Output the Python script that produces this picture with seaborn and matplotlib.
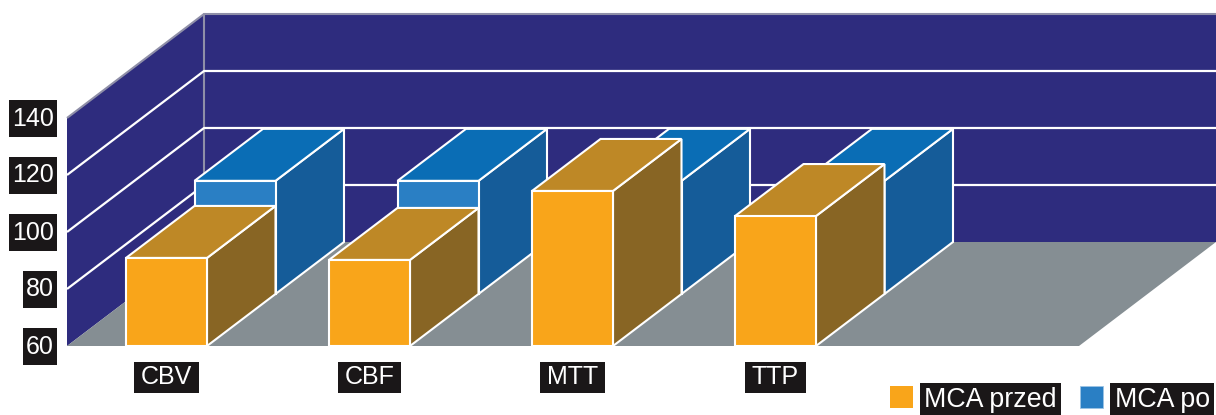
import numpy as np
import pandas as pd
import matplotlib
matplotlib.use("Agg")
import matplotlib.pyplot as plt
from matplotlib.patches import Patch
from matplotlib.transforms import Affine2D
import seaborn as sns

# Data
categories = ["CBV", "CBF", "MTT", "TTP"]
mca_przed = [90.9, 90.2, 114.4, 105.6]
mca_po = [99.7, 99.7, 99.7, 99.7]
y_ticks = [60, 80, 100, 120, 140]
series_names = ["MCA przed", "MCA po"]

W, H = 1216, 415
PX_Y = 2.85      # pixels per value unit
PX_X = 203.0     # pixels per category
LEFT, BASE = 67, 346
X0 = 166.5       # pixel of the first category centre
DX = 68.5 / PX_X # depth of one row
DY = 52 / PX_Y
BAR_W = 81 / PX_X

WALL = "#2E2C7E"; FLOOR = "#858E93"; EDGE = "white"; RIM = "#8F8FA8"
O_FRONT, O_TOP, O_SIDE = "#F9A51A", "#BE8826", "#886524"
B_FRONT, B_TOP, B_SIDE = "#2A7FC4", "#0A6DB5", "#155C99"
TAG = "#1A1718"

sns.set_theme(style="white")
plt.rcParams["font.family"] = ["Liberation Sans", "DejaVu Sans"]

fig = plt.figure(figsize=(W / 100, H / 100), dpi=100, facecolor="white")
ax = fig.add_axes([LEFT / W, (H - BASE) / H, (W - LEFT) / W, BASE / H])
xmin, xmax = (LEFT - X0) / PX_X, (W - X0) / PX_X
ymin, ymax = 60, 60 + BASE / PX_Y
ax.set_facecolor("none")

# Scene: walls, floor, grid
ymax_tick = max(y_ticks)
xb = xmin + 2 * DX
ax.fill([xmin, xb, xb, xmin], [60, 60 + 2 * DY, ymax_tick + 2 * DY, ymax_tick],
        color=WALL, lw=0, zorder=1)
ax.fill([xb, xmax, xmax, xb], [60 + 2 * DY, 60 + 2 * DY, ymax_tick + 2 * DY, ymax_tick + 2 * DY],
        color=WALL, lw=0, zorder=1)
ax.fill([xmin, xb, xmax, xmax - 2 * DX], [60, 60 + 2 * DY, 60 + 2 * DY, 60],
        color=FLOOR, lw=0, zorder=1.5)
for t in y_ticks[1:]:
    c, lw = (RIM, 1.5) if t == ymax_tick else (EDGE, 1.6)
    ax.plot([xmin, xb, xmax], [t, t + 2 * DY, t + 2 * DY], color=c, lw=lw, zorder=2,
            clip_on=False, solid_capstyle="butt")
ax.plot([xb, xb], [60 + 2 * DY, ymax_tick + 2 * DY], color=RIM, lw=1.5, zorder=1.8)


def box_sides(values, shift, top_c, side_c, z):
    for i, v in enumerate(values):
        l, r = i - BAR_W / 2 + shift * DX, i + BAR_W / 2 + shift * DX
        b = 60 + shift * DY
        t = v + shift * DY
        ax.fill([r, r + DX, r + DX, r], [b, b + DY, t + DY, t], fc=side_c, ec=EDGE, lw=1.5, zorder=z)
        ax.fill([l, r, r + DX, l + DX], [t, t, t + DY, t + DY], fc=top_c, ec=EDGE, lw=1.5, zorder=z)


# Rear row (MCA po)
box_sides(mca_po, 1, B_TOP, B_SIDE, 3)
df_po = pd.DataFrame({"cat": categories, "h": np.array(mca_po) - 60})
sns.barplot(data=df_po, x="cat", y="h", ax=ax, color=B_FRONT, saturation=1, width=BAR_W,
            bottom=60, edgecolor=EDGE, linewidth=1.5, errorbar=None, zorder=3.1,
            transform=Affine2D().translate(DX, DY) + ax.transData)

# Front row (MCA przed)
box_sides(mca_przed, 0, O_TOP, O_SIDE, 4)
df_pr = pd.DataFrame({"cat": categories, "h": np.array(mca_przed) - 60})
sns.barplot(data=df_pr, x="cat", y="h", ax=ax, color=O_FRONT, saturation=1, width=BAR_W,
            bottom=60, edgecolor=EDGE, linewidth=1.5, errorbar=None, zorder=4.1)

ax.set_xlim(xmin, xmax)
ax.set_ylim(ymin, ymax)
ax.set_xlabel("")
ax.set_ylabel("")
sns.despine(ax=ax, left=True, bottom=True, top=True, right=True)

# Tick labels: white on black tags
ax.set_yticks(y_ticks)
ax.set_xticks(range(len(categories)))
ax.set_xticklabels(categories)
ax.tick_params(axis="both", length=0)
ax.tick_params(axis="y", pad=9.5)
ax.tick_params(axis="x", pad=14)
for lab in ax.get_yticklabels():
    lab.set_fontsize(18)
    lab.set_color("white")
    lab.set_va("center_baseline")
    lab.set_transform(lab.get_transform() + Affine2D().translate(0, 2))
    lab.set_bbox(dict(boxstyle="square,pad=0.11", fc=TAG, ec="none", mutation_aspect=2.4))
for lab in ax.get_xticklabels():
    lab.set_fontsize(18)
    lab.set_color("white")
    lab.set_bbox(dict(boxstyle="square,pad=0.27", fc=TAG, ec="none", mutation_aspect=0.55))

# Legend
handles = [Patch(fc=O_FRONT, ec="none"), Patch(fc=B_FRONT, ec="#9CC3E4", lw=0.6)]
leg = fig.legend(handles, series_names, loc="lower right", bbox_to_anchor=(1215 / W, -3 / H),
                 ncol=2, frameon=False, fontsize=19.3, handlelength=0.88, handleheight=0.88,
                 handletextpad=0.42, columnspacing=0.85, borderpad=0.2, borderaxespad=0)
for t in leg.get_texts():
    t.set_color("white")
    t.set_bbox(dict(boxstyle="square,pad=0.17", fc=TAG, ec="none", mutation_aspect=0.8))

fig.savefig("out.png", dpi=100, facecolor="white")
